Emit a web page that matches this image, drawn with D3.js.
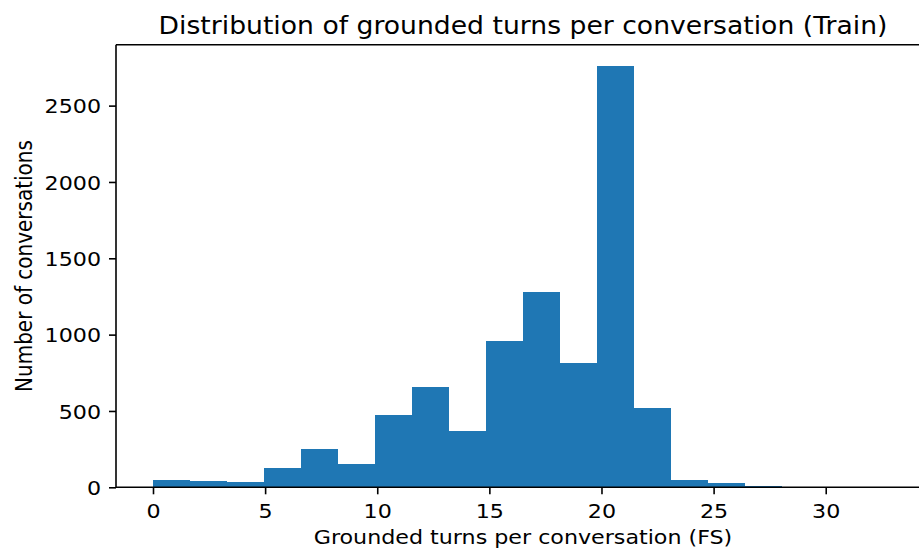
<!DOCTYPE html>
<html>
<head>
<meta charset="utf-8">
<script src="https://cdn.jsdelivr.net/npm/d3@7"></script>
<style>
  html, body { margin: 0; padding: 0; background: #fff; }
  svg { display: block; }
  text { font-family: "DejaVu Sans", sans-serif; fill: #000; }
</style>
</head>
<body>
<div id="chart"></div>
<script>
// Histogram bin edges (grounded turns per conversation)
const binEdges = [0, 1.65, 3.3, 4.95, 6.6, 8.25, 9.9, 11.55, 13.2, 14.85, 16.5,
                  18.15, 19.8, 21.45, 23.1, 24.75, 26.4, 28.05, 29.7, 31.35, 33];
// Number of conversations per bin
const counts = [50, 44, 35, 127, 252, 153, 474, 655, 372, 955, 1278,
                811, 2761, 520, 48, 26, 9, 0, 0, 1];
const xTicks = [0, 5, 10, 15, 20, 25, 30];
const yTicks = [0, 500, 1000, 1500, 2000, 2500];
const title = "Distribution of grounded turns per conversation (Train)";
const xLabel = "Grounded turns per conversation (FS)";
const yLabel = "Number of conversations";

const W = 919, H = 549;
const plot = { left: 116, right: 930, top: 44.7, bottom: 487.3 };
const barColor = "#1f77b4";
const SX = 1.11; // horizontal stretch of the text glyphs

const bins = counts.map((c, i) => ({ x0: binEdges[i], x1: binEdges[i + 1], count: c }));

const xPad = (binEdges[binEdges.length - 1] - binEdges[0]) * 0.05;
const x = d3.scaleLinear()
  .domain([binEdges[0] - xPad, binEdges[binEdges.length - 1] + xPad])
  .range([plot.left, plot.right]);
const y = d3.scaleLinear()
  .domain([0, d3.max(counts) * 1.05])
  .range([plot.bottom, plot.top]);

const svg = d3.select("#chart").append("svg")
  .attr("width", W).attr("height", H);

// Bars
svg.append("g").selectAll("rect").data(bins).join("rect")
  .attr("x", d => x(d.x0))
  .attr("width", d => x(d.x1) - x(d.x0))
  .attr("y", d => y(d.count))
  .attr("height", d => y(0) - y(d.count))
  .attr("fill", barColor)
  .attr("shape-rendering", "crispEdges");

// X axis
const xAxis = svg.append("g")
  .attr("transform", `translate(0,${plot.bottom})`)
  .call(d3.axisBottom(x).tickValues(xTicks).tickSize(7).tickPadding(7).tickFormat(d3.format("d")));
xAxis.select(".domain").remove();
xAxis.selectAll(".tick line").attr("stroke", "#000").attr("stroke-width", 1.6);
xAxis.selectAll(".tick text").attr("font-size", 20).attr("font-family", "DejaVu Sans").attr("dy", null)
  .attr("y", 30.3).attr("fill", "#000").attr("transform", `scale(${SX},1)`);

// Y axis
const yAxis = svg.append("g")
  .attr("transform", `translate(${plot.left},0)`)
  .call(d3.axisLeft(y).tickValues(yTicks).tickSize(7).tickPadding(7).tickFormat(d3.format("d")));
yAxis.select(".domain").remove();
yAxis.selectAll(".tick line").attr("stroke", "#000").attr("stroke-width", 1.6);
yAxis.selectAll(".tick text").attr("font-size", 20).attr("font-family", "DejaVu Sans")
  .attr("x", -15 / SX).attr("dy", "0.36em").attr("fill", "#000").attr("transform", `scale(${SX},1)`);

// Spines
const spines = svg.append("g").attr("stroke", "#000").attr("stroke-width", 1.6).attr("fill", "none");
spines.append("line").attr("x1", plot.left).attr("x2", plot.left).attr("y1", plot.top).attr("y2", plot.bottom);
spines.append("line").attr("x1", plot.left).attr("x2", plot.right).attr("y1", plot.bottom).attr("y2", plot.bottom);
spines.append("line").attr("x1", plot.left).attr("x2", plot.right).attr("y1", plot.top).attr("y2", plot.top);
spines.append("line").attr("x1", plot.right).attr("x2", plot.right).attr("y1", plot.top).attr("y2", plot.bottom);

// Title
svg.append("text")
  .attr("transform", `translate(${(plot.left + plot.right) / 2},33.5) scale(${SX},1)`)
  .attr("text-anchor", "middle").attr("font-size", 24)
  .text(title);

// X label
svg.append("text")
  .attr("transform", `translate(${(plot.left + plot.right) / 2},544) scale(${SX},1)`)
  .attr("text-anchor", "middle").attr("font-size", 20)
  .text(xLabel);

// Y label
svg.append("text")
  .attr("transform", `translate(31.5,${(plot.top + plot.bottom) / 2}) scale(${SX},1) rotate(-90)`)
  .attr("text-anchor", "middle").attr("font-size", 20)
  .text(yLabel);
</script>
</body>
</html>
